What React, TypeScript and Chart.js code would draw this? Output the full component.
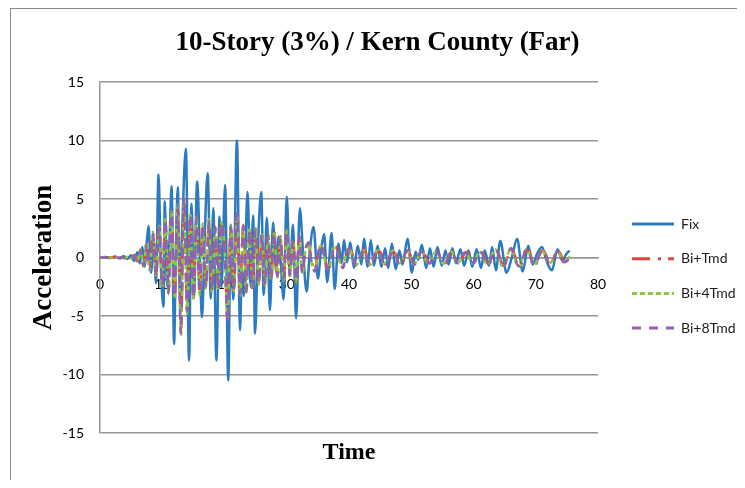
import React, { useEffect, useRef } from 'react';
import { Chart, registerables } from 'chart.js';

Chart.register(...registerables);

const TITLE = '10-Story (3%) / Kern County (Far)';
const X_TITLE = 'Time';
const Y_TITLE = 'Acceleration';
const SERIES_NAMES = ['Fix', 'Bi+Tmd', 'Bi+4Tmd', 'Bi+8Tmd'];

const X_MIN = 0;
const X_MAX = 80;
const X_STEP = 10;
const Y_MIN = -15;
const Y_MAX = 15;
const Y_STEP = 5;

// Fix: times (s) of the turning points and the accelerations there
const FIX_TIME = [
  0, 0.8, 1.6, 2.4, 3.2, 3.8, 4.4, 5.0, 5.5, 6.0,
  6.4, 6.8, 7.2, 7.5, 7.8, 8.2, 8.6, 9.0, 9.4, 9.8,
  10.2, 10.4, 10.8, 11.2, 11.5, 11.9, 12.2, 12.5, 12.8, 13.2,
  13.8, 14.3, 14.7, 15.1, 15.6, 16.4, 16.8, 17.3, 17.8, 18.2,
  18.7, 19.2, 19.5, 20.1, 20.6, 21.0, 21.4, 22.0, 22.5, 22.8,
  23.1, 23.7, 24.2, 24.6, 24.9, 25.4, 25.9, 26.3, 26.8, 27.3,
  27.8, 28.3, 28.7, 29.5, 30.0, 30.5, 31.0, 31.5, 32.1, 32.6,
  33.2, 33.7, 34.3, 35.0, 35.5, 36.0, 36.5, 37.2, 37.7, 38.3,
  38.8, 39.2, 39.7, 40.2, 40.8, 41.4, 42.0, 42.4, 43.0, 43.5,
  44.0, 44.6, 45.2, 45.8, 46.3, 46.9, 47.5, 48.1, 48.6, 49.4,
  50.1, 50.7, 51.1, 51.7, 52.4, 53.0, 53.6, 54.2, 54.9, 55.5,
  56.0, 56.6, 57.2, 57.9, 58.5, 59.2, 59.8, 60.5, 61.2, 61.8,
  62.5, 63.0, 63.6, 64.3, 65.3, 66.2, 67.0, 67.9, 68.8, 69.5,
  70.2, 71.0, 71.8, 72.6, 73.5, 74.3, 74.8, 75.4,
];
const FIX_ACCEL = [
  0, 0.05, -0.05, 0.08, -0.08, 0.12, -0.12, 0.2, -0.3, 0.45,
  -0.5, 0.9, -0.8, 1.2, 2.7, -1.3, 1.6, -2.2, 7.1, -1.0,
  -4.2, 4.8, -2.5, 2.0, 6.1, -7.4, 1.0, 6.0, -3.0, 2.5,
  9.3, -8.8, 4.6, -3.3, 6.5, -5.1, 1.5, 7.2, -3.5, 4.2,
  -8.8, 3.5, -2.5, 6.2, -10.5, 2.8, -3.6, 10.0, -6.2, -1.0,
  -3.3, 5.6, -2.5, 3.6, -6.5, 1.4, 5.6, -3.2, 3.4, -4.5,
  3.0, -1.2, 1.8, -3.6, 5.2, -1.5, 2.8, -5.2, 4.2, 0.6,
  -2.9, 0.5, 2.6, -1.8, 0.6, 2.0, -2.1, 2.1, -2.7, 1.2,
  -0.5, 1.5, -0.4, 1.3, -0.9, 1.0, -0.6, 1.6, -0.8, 1.5,
  -0.7, 1.0, -0.8, 0.8, -0.9, 1.2, -1.0, 0.6, -0.6, 1.6,
  -1.3, 0.5, -0.2, 1.1, -0.9, 0.8, -0.8, 0.9, -0.7, 0.6,
  -0.6, 0.8, -0.5, 0.7, -0.7, 0.6, -0.8, 0.7, -0.9, 0.6,
  -0.7, 0.9, -1.1, 1.4, -1.3, 0.1, 1.6, -1.2, 1.0, -0.6,
  0.3, 0.9, -0.4, -1.1, 0.7, -0.3, 0.2, 0.6,
];

// Isolated cases: sampled every TMD_DT seconds from t = 0
const TMD_DT = 0.5;

const BI_TMD = [
  0, 0.01, -0.01, 0.02, -0.02, 0.04, -0.05, 0.06, -0.07, 0.1, -0.13,
  0.22, -0.33, 0.65, -0.75, 1.25, -1.05, 2.1, -1.7, 2.65, -2.45,
  3.25, -3.1, 3.85, -3.45, 4.4, -6.3, 5.0, -4.7, 3.7, -3.5,
  3.5, -3.1, 2.9, -2.7, 3.2, -3.0, 2.6, -2.8, 3.0,
  0.9, -5.3, 2.7, -2.9, 3.7, -3.2, 2.8, -3.0, 2.4, -2.7,
  2.5, -2.3, 2.1, -2.4, 2.0, -1.9, 2.2, -1.7, 1.8, -2.0,
  2.3, -1.6, 1.5, -2.1,
  1.7, -1.2, 0.5, 1.2, -0.3, -1.1, 0.2, 1.0, 0.3, -0.9,
  -0.7, 0.7, 0.9, -0.2, -0.9, 0.0, 0.7, 0.4, -0.6, -0.6,
  0.3, 0.7, -0.1, -0.7, -0.1, 0.5, 0.5, -0.3, -0.6, 0.0,
  0.5, 0.3, -0.4, -0.5, 0.2, 0.6, 0.0, -0.5, -0.3, 0.4,
  0.5, -0.2, -0.5, 0.0, 0.4, 0.3, -0.3, -0.5, 0.1, 0.5,
  0.1, -0.4, -0.3, 0.3, 0.5, -0.1, -0.5, -0.1, 0.4, 0.4,
  -0.3, -0.6, 0.1, 0.6, 0.4, -0.5, -0.7, 0.1, 0.8, 0.4,
  -0.5, -0.8, 0.0, 0.6, 0.5, -0.4, -0.6, 0.0, 0.6, 0.4,
  -0.3, -0.5, 0.0, 0.5, 0.3, -0.3, -0.3, 0.1,
];

const BI_4TMD = [
  0, 0.01, -0.01, 0.02, -0.03, 0.03, -0.04, 0.06, -0.07, 0.09, -0.12,
  0.25, -0.35, 0.7, -0.8, 1.3, -1.1, 2.2, -1.7, 2.7, -2.5,
  3.3, -3.1, 3.9, -3.5, 4.5, -6.7, 4.9, -4.8, 3.8, -3.5,
  3.5, -3.2, 2.9, -2.7, 3.3, -3.0, 2.6, -2.8, 3.0,
  0.9, -5.2, 2.8, -2.9, 3.6, -3.3, 2.8, -3.0, 2.4, -2.7,
  2.5, -2.3, 2.1, -2.4, 2.0, -1.9, 2.2, -1.7, 1.8, -2.0,
  2.3, -1.6, 1.5, -2.1,
  1.9, -1.4, 0.7, 1.2, -0.5, -1.1, 0.4, 1.0, 0.1, -1.0,
  -0.5, 0.8, 0.8, -0.4, -0.8, 0.2, 0.8, 0.2, -0.7, -0.4,
  0.5, 0.6, -0.3, -0.6, 0.1, 0.6, 0.3, -0.5, -0.5, 0.2,
  0.6, 0.1, -0.5, -0.3, 0.4, 0.5, -0.2, -0.6, -0.1, 0.5,
  0.3, -0.4, -0.4, 0.2, 0.5, 0.1, -0.5, -0.3, 0.3, 0.5,
  -0.1, -0.5, -0.1, 0.4, 0.3, -0.3, -0.5, 0.1, 0.5, 0.2,
  -0.5, -0.5, 0.3, 0.7, 0.2, -0.7, -0.6, 0.3, 0.7, 0.2,
  -0.7, -0.7, 0.2, 0.7, 0.3, -0.6, -0.5, 0.2, 0.6, 0.2,
  -0.5, -0.4, 0.2, 0.5, 0.1, -0.4, -0.2, 0.1,
];

const BI_8TMD = [
  0, 0.01, -0.01, 0.02, -0.02, 0.03, -0.04, 0.05, -0.06, 0.08, -0.1,
  0.2, -0.3, 0.6, -0.7, 1.2, -1.0, 2.0, -1.6, 2.6, -2.4,
  3.2, -3.0, 3.8, -3.4, 4.3, -6.5, 5.2, -4.6, 3.6, -3.4,
  3.4, -3.0, 2.8, -2.6, 3.1, -2.9, 2.5, -2.7, 2.9,
  0.8, -5.5, 2.6, -2.8, 3.8, -3.1, 2.7, -2.9, 2.3, -2.6,
  2.4, -2.2, 2.0, -2.3, 1.9, -1.8, 2.1, -1.6, 1.7, -1.9,
  2.2, -1.5, 1.4, -2.0,
  1.8, -1.3, 0.6, 1.3, -0.4, -1.2, 0.3, 1.1, 0.2, -1.0,
  -0.6, 0.8, 0.9, -0.3, -0.9, 0.1, 0.8, 0.3, -0.7, -0.5,
  0.4, 0.7, -0.2, -0.7, 0.0, 0.6, 0.4, -0.4, -0.6, 0.1,
  0.6, 0.2, -0.5, -0.4, 0.3, 0.6, -0.1, -0.6, -0.2, 0.5,
  0.4, -0.3, -0.5, 0.1, 0.5, 0.2, -0.4, -0.4, 0.2, 0.5,
  0.0, -0.5, -0.2, 0.4, 0.4, -0.2, -0.5, 0.0, 0.5, 0.3,
  -0.4, -0.6, 0.2, 0.7, 0.3, -0.6, -0.7, 0.2, 0.8, 0.3,
  -0.6, -0.8, 0.1, 0.7, 0.4, -0.5, -0.6, 0.1, 0.6, 0.3,
  -0.4, -0.5, 0.1, 0.5, 0.2, -0.4, -0.3, 0.2,
];

const COLORS = ['#2C7BC0', '#E8423B', '#8DC63F', '#9460B0'];
const PLOT_DASH = [[], [16, 8, 3, 8], [5, 3], [9, 8]];
const LEGEND_DASH = [[], [18, 8, 3, 7, 8, 8], [5, 3], [9, 8]];

const GRID = '#959595';
const SANS = 'Lato';
const SERIF = '"Liberation Serif", "Times New Roman", serif';

function pairs(times: number[], values: number[]) {
  return values.map((v, i) => ({ x: times[i], y: v }));
}
function sampled(values: number[], dt: number) {
  return values.map((v, i) => ({ x: i * dt, y: v }));
}

function lineSet(idx: number, data: { x: number; y: number }[], order: number) {
  return {
    label: SERIES_NAMES[idx],
    data,
    borderColor: COLORS[idx],
    backgroundColor: COLORS[idx],
    borderWidth: 2.5,
    borderDash: PLOT_DASH[idx],
    pointRadius: 0,
    tension: 0.3,
    cubicInterpolationMode: 'monotone',
    order,
    xAxisID: 'x',
    yAxisID: 'y',
  };
}

export default function App() {
  const ref = useRef<HTMLCanvasElement | null>(null);

  useEffect(() => {
    if (!ref.current) return;
    const chart = new Chart(ref.current, {
      type: 'line',
      data: {
        datasets: [
          lineSet(0, pairs(FIX_TIME, FIX_ACCEL), 4),
          lineSet(1, sampled(BI_TMD, TMD_DT), 3),
          lineSet(2, sampled(BI_4TMD, TMD_DT), 2),
          lineSet(3, sampled(BI_8TMD, TMD_DT), 1),
        ],
      },
      options: {
        animation: false,
        responsive: true,
        maintainAspectRatio: false,
        layout: { padding: { left: 7, right: 0, top: 0, bottom: 0 } },
        plugins: {
          title: {
            display: true,
            text: TITLE,
            color: '#000',
            font: { family: SERIF, size: 27, weight: 'bold' },
            padding: { top: 17.7, bottom: 22.9 },
          },
          legend: {
            position: 'right',
            align: 'center',
            maxWidth: 125.7,
            title: { display: true, text: '', font: { size: 12 }, padding: { top: 0, bottom: 48.7 } },
            labels: {
              usePointStyle: true,
              pointStyle: 'line',
              pointStyleWidth: 42,
              padding: 20.7,
              color: '#1a1a1a',
              font: { family: SANS, size: 14 },
              sort: (a: any, b: any) => a.datasetIndex - b.datasetIndex,
              generateLabels: (c: any) => {
                const base = (Chart.defaults.plugins.legend.labels as any).generateLabels(c);
                return base.map((it: any) => ({
                  ...it,
                  pointStyle: 'line',
                  strokeStyle: COLORS[it.datasetIndex],
                  fillStyle: COLORS[it.datasetIndex],
                  lineWidth: 3,
                  lineDash: LEGEND_DASH[it.datasetIndex],
                  lineDashOffset: 0,
                  lineCap: 'butt',
                }));
              },
            },
          },
          tooltip: { enabled: false },
        },
        scales: {
          x: {
            type: 'linear',
            position: { y: 0 },
            min: X_MIN,
            max: X_MAX,
            ticks: { stepSize: X_STEP, color: '#000', font: { family: SANS, size: 14 }, maxRotation: 0 },
            grid: { display: false, drawTicks: true, tickLength: 16 },
            border: { display: true, color: GRID, width: 1.5 },
          },
          xTitle: {
            type: 'linear',
            position: 'bottom',
            min: X_MIN,
            max: X_MAX,
            ticks: { display: false },
            grid: { display: false },
            border: { display: false },
            title: {
              display: true,
              text: X_TITLE,
              color: '#000',
              font: { family: SERIF, size: 24, weight: 'bold' },
              padding: { top: 0, bottom: 12.7 },
            },
            afterFit: (s: any) => {
              s.height = 47;
            },
          },
          y: {
            type: 'linear',
            position: 'left',
            min: Y_MIN,
            max: Y_MAX,
            ticks: { stepSize: Y_STEP, padding: 16, color: '#000', font: { family: SANS, size: 14 } },
            grid: { color: GRID, lineWidth: 1.5, drawTicks: false },
            border: { display: true, color: GRID, width: 1.5 },
            title: {
              display: true,
              text: Y_TITLE,
              color: '#000',
              font: { family: SERIF, size: 27, weight: 'bold' },
              padding: { top: 9.7, bottom: 0 },
            },
            afterFit: (s: any) => {
              s.width = 82;
            },
          },
          yPad: {
            type: 'linear',
            position: 'right',
            min: 0,
            max: 1,
            ticks: { display: false },
            grid: { display: false },
            border: { display: false },
            afterFit: (s: any) => {
              s.width = 13.3;
            },
          },
        },
      } as any,
    });
    return () => chart.destroy();
  }, []);

  return (
    <div
      style={{
        marginLeft: 2,
        borderLeft: '1px solid #8a8a8a',
        borderTop: '1px solid #8a8a8a',
        width: 726,
        height: 471,
        position: 'relative',
        background: '#fff',
      }}
    >
      <canvas ref={ref} />
    </div>
  );
}
